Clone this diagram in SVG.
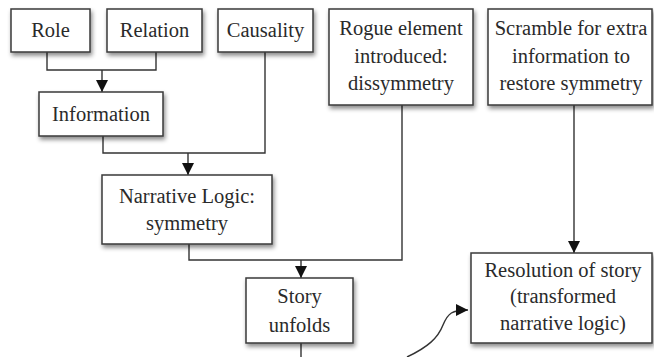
<svg xmlns="http://www.w3.org/2000/svg" width="654" height="357" viewBox="0 0 654 357">
<style>
.box{fill:#fff;stroke:#3a3a3a;stroke-width:1.5;filter:url(#sh)}
.t{font-family:"Liberation Serif","DejaVu Serif",serif;font-size:20.5px;fill:#2a2a2a;text-anchor:middle}
.c{fill:none;stroke:#333;stroke-width:1.4}
</style>
<defs>
<filter id="sh" x="-20%" y="-20%" width="140%" height="150%">
<feDropShadow dx="1.5" dy="3" stdDeviation="2" flood-color="#000" flood-opacity="0.45"/>
</filter>
<marker id="ah" markerUnits="userSpaceOnUse" markerWidth="14" markerHeight="14" refX="12" refY="6" orient="auto">
<path d="M0,0 L12,6 L0,12 Z" fill="#111"/>
</marker>
</defs>
<g id="connectors">
<path class="c" d="M47 52 V70 H156 V52"/>
<path class="c" d="M102 70 V92" marker-end="url(#ah)"/>
<path class="c" d="M103 136 V153 H265 V52"/>
<path class="c" d="M188 153 V175" marker-end="url(#ah)"/>
<path class="c" d="M189 244 V260 H402 V105"/>
<path class="c" d="M301 260 V278" marker-end="url(#ah)"/>
<path class="c" d="M301 343 V357"/>
<path class="c" d="M574 105 V253" marker-end="url(#ah)"/>
<path class="c" d="M407 357 C428 347 438 338 443 325 C448 313 452 310 468 310" marker-end="url(#ah)"/>
</g>
<g id="role"><rect class="box" x="11" y="9" width="79" height="43"/><text class="t" x="50.5" y="37">Role</text></g>
<g id="relation"><rect class="box" x="107" y="9" width="95" height="43"/><text class="t" x="154.5" y="37">Relation</text></g>
<g id="causality"><rect class="box" x="218" y="9" width="95" height="43"/><text class="t" x="265.5" y="37">Causality</text></g>
<g id="information"><rect class="box" x="39" y="92" width="124" height="44"/><text class="t" x="101" y="121">Information</text></g>
<g id="narrative"><rect class="box" x="102" y="175" width="170" height="69"/><text class="t" x="187" y="203">Narrative Logic:</text><text class="t" x="187" y="230">symmetry</text></g>
<g id="story"><rect class="box" x="246" y="278" width="107" height="65"/><text class="t" x="299.5" y="303">Story</text><text class="t" x="299.5" y="332">unfolds</text></g>
<g id="rogue"><rect class="box" x="329" y="9" width="144" height="96"/><text class="t" x="401" y="35">Rogue element</text><text class="t" x="401" y="63">introduced:</text><text class="t" x="401" y="90">dissymmetry</text></g>
<g id="scramble"><rect class="box" x="488" y="9" width="164" height="96"/><text class="t" x="571" y="35">Scramble for extra</text><text class="t" x="571" y="63">information to</text><text class="t" x="571" y="90">restore symmetry</text></g>
<g id="resolution"><rect class="box" x="471" y="253" width="181" height="90"/><text class="t" x="563" y="277">Resolution of story</text><text class="t" x="563" y="303">(transformed</text><text class="t" x="563" y="330">narrative logic)</text></g>
</svg>
